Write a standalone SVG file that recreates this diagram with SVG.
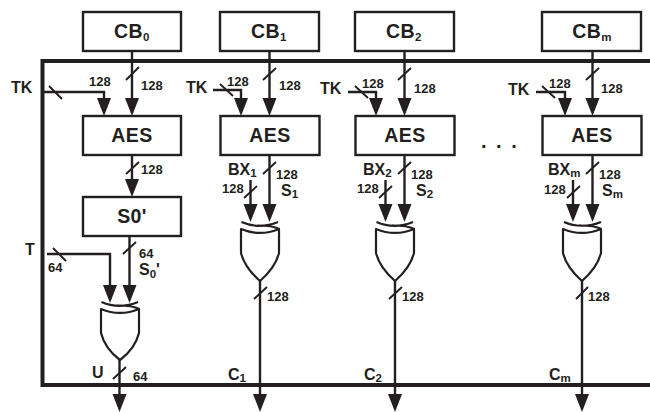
<svg xmlns="http://www.w3.org/2000/svg" width="650" height="412" viewBox="0 0 650 412">
<style>
text{font-family:"Liberation Sans",Arial,sans-serif;font-weight:bold;fill:#231f20}
.b{font-size:19.5px;text-anchor:middle;letter-spacing:.4px}
.l{font-size:16px}
.n{font-size:13px}
.s{font-size:11.5px}
.box{fill:#fff;stroke:#231f20;stroke-width:2.4}
.w{fill:none;stroke:#231f20;stroke-width:2.2}
.sl{fill:none;stroke:#231f20;stroke-width:1.9}
.a{fill:none;stroke:#231f20;stroke-width:2.4;marker-end:url(#ah)}
.g{fill:#fff;stroke:#231f20;stroke-width:2.2;stroke-linejoin:round}
</style>
<defs>
<marker id="ah" markerUnits="userSpaceOnUse" markerWidth="20" markerHeight="16" refX="13" refY="7" orient="auto" overflow="visible"><path d="M0,0L18,7L0,14Z" fill="#231f20"/></marker>
</defs>
<rect width="650" height="412" fill="#fff"/>
<g id="frame"><path d="M650,61H42.5V385H650" fill="none" stroke="#231f20" stroke-width="4"/></g>
<g id="connectors">
<path class="a" d="M132,51V111"/><path class="a" d="M43,92H104V111"/><path class="a" d="M132,155V192"/>
<path class="a" d="M129.5,236V298"/><path class="a" d="M47,254H110V298"/><path class="a" d="M119.5,360V407"/>
<path class="a" d="M269.5,51V111"/><path class="a" d="M213,90H241V111"/><path class="a" d="M269.5,155V217"/><path class="a" d="M250.5,180V217"/><path class="a" d="M260,281V407"/>
<path class="a" d="M404.5,51V111"/><path class="a" d="M348,92H376V111"/><path class="a" d="M404.5,155V217"/><path class="a" d="M385.5,180V217"/><path class="a" d="M395,281V407"/>
<path class="a" d="M592.5,51V111"/><path class="a" d="M536,92H565V111"/><path class="a" d="M592.5,155V217"/><path class="a" d="M573,180V217"/><path class="a" d="M582,281V407"/>
<path class="sl" d="M126,80L139,67M49,86L62,99M126,174L139,162M53,248L66,261M123,254L136,242M113,379L126,367"/>
<path class="sl" d="M263,80L276,68M220,84L233,96M263,174L276,162M244,198L257,186M254,299L267,287"/>
<path class="sl" d="M398,80L411,68M355,86L368,98M398,174L411,162M379,198L392,186M389,299L402,287"/>
<path class="sl" d="M586,80L599,68M542,86L555,98M586,174L599,162M567,198L580,186M576,299L588,287"/>
</g>
<g id="cb0"><rect class="box" x="83" y="12" width="98" height="39"/><text class="b" x="132" y="38">CB<tspan class="s" dy="3">0</tspan></text></g>
<g id="cb1"><rect class="box" x="220" y="12" width="99" height="39"/><text class="b" x="269" y="38">CB<tspan class="s" dy="3">1</tspan></text></g>
<g id="cb2"><rect class="box" x="355" y="12" width="99" height="39"/><text class="b" x="404" y="38">CB<tspan class="s" dy="3">2</tspan></text></g>
<g id="cbm"><rect class="box" x="542" y="12" width="99" height="39"/><text class="b" x="592" y="38">CB<tspan class="s" dy="3">m</tspan></text></g>
<g id="aes0"><rect class="box" x="83" y="116" width="98" height="39"/><text class="b" x="132" y="142">AES</text></g>
<g id="aes1"><rect class="box" x="220.500" y="116" width="99" height="39"/><text class="b" x="270" y="142">AES</text></g>
<g id="aes2"><rect class="box" x="355.500" y="116" width="99" height="39"/><text class="b" x="405" y="142">AES</text></g>
<g id="aesm"><rect class="box" x="542.500" y="116" width="99" height="39"/><text class="b" x="592" y="142">AES</text></g>
<g id="s0"><rect class="box" x="83" y="197" width="98" height="39"/><text class="b" x="132" y="223">S0'</text></g>
<g id="xor0"><path class="g" d="M101,309C113,314 127,314 139,309V333C136,345 128,354 120,360C112,354 104,345 101,333Z"/><path class="w" d="M101.500,302C113,307 126,307 138,302M117,305.500C125,305.500 134,306 139,309"/></g>
<g id="xor1"><path class="g" d="M241,229C253,234 267,234 279,229V253C276,265 268,274 260,281C252,274 244,265 241,253Z"/><path class="w" d="M241.500,222C253,227 266,227 278,222M257,225.500C265,225.500 274,226 279,229"/></g>
<g id="xor2"><path class="g" d="M376,229C388,234 402,234 414,229V253C411,265 403,274 395,281C387,274 379,265 376,253Z"/><path class="w" d="M376.500,222C388,227 401,227 413,222M392,225.500C400,225.500 409,226 414,229"/></g>
<g id="xorm"><path class="g" d="M563,229C575,234 589,234 601,229V253C598,265 590,274 582,281C574,274 566,265 563,253Z"/><path class="w" d="M564,222C575,227 589,227 601,222M579,225.500C587,225.500 596,226 601,229"/></g>
<g id="labels">
<text class="l" x="11" y="93">TK</text><text class="n" x="89" y="86">128</text><text class="n" x="141" y="90">128</text><text class="n" x="141" y="174">128</text>
<text class="l" x="25" y="255">T</text><text class="n" x="48" y="272">64</text><text class="n" x="139" y="258">64</text><text class="l" x="139" y="275">S<tspan class="s" dy="3">0</tspan><tspan dy="-3">'</tspan></text>
<text class="l" x="92" y="378">U</text><text class="n" x="133" y="381">64</text>
<text class="l" x="186" y="93">TK</text><text class="n" x="227" y="86">128</text><text class="n" x="279" y="90">128</text>
<text class="l" x="228" y="175">BX<tspan class="s" dy="2">1</tspan></text><text class="n" x="276" y="179">128</text><text class="l" x="281" y="196">S<tspan class="s" dy="2">1</tspan></text><text class="n" x="222" y="193">128</text><text class="n" x="267" y="301">128</text><text class="l" x="228" y="380">C<tspan class="s" dy="2">1</tspan></text>
<text class="l" x="320" y="94">TK</text><text class="n" x="362" y="88">128</text><text class="n" x="414" y="93">128</text>
<text class="l" x="363" y="175">BX<tspan class="s" dy="2">2</tspan></text><text class="n" x="411" y="179">128</text><text class="l" x="416" y="196">S<tspan class="s" dy="2">2</tspan></text><text class="n" x="357" y="193">128</text><text class="n" x="402" y="301">128</text><text class="l" x="364" y="380">C<tspan class="s" dy="2">2</tspan></text>
<text class="l" x="508" y="95">TK</text><text class="n" x="549" y="88">128</text><text class="n" x="601" y="93">128</text>
<text class="l" x="548" y="175">BX<tspan class="s" dy="2">m</tspan></text><text class="n" x="599" y="179">128</text><text class="l" x="602" y="196">S<tspan class="s" dy="2">m</tspan></text><text class="n" x="544" y="194">128</text><text class="n" x="588" y="301">128</text><text class="l" x="549" y="380">C<tspan class="s" dy="2">m</tspan></text>
<text x="481" y="148" style="font-size:20px;word-spacing:4px">. . .</text>
</g>
</svg>
